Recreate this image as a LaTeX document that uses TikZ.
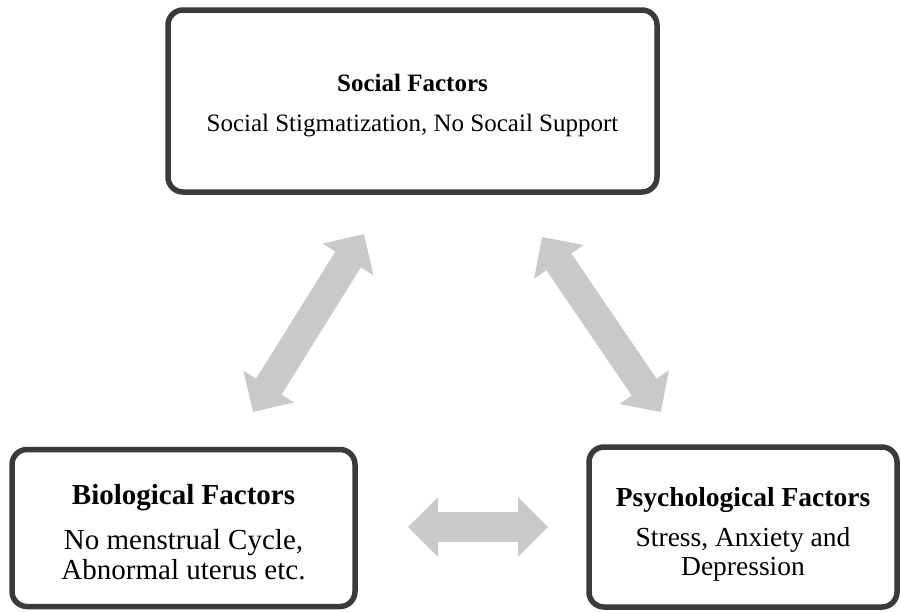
\documentclass[tikz,border=0pt]{standalone}
\usepackage{fontspec}
\setmainfont{Liberation Serif}
\usetikzlibrary{arrows.meta}
\definecolor{boxline}{HTML}{3A3A3A}
\definecolor{arrowgray}{HTML}{C9C9C9}
\tikzset{
  factorbox/.style={draw=boxline, line width=5.5pt, rounded corners=15pt, fill=white, inner sep=0pt},
  factortext/.style={align=center, inner sep=0pt},
  dblarrow/.style={draw=arrowgray, line width=30pt,
    {Triangle[width=58pt,length=30pt]}-{Triangle[width=58pt,length=30pt]}}
}
\begin{document}
\begin{tikzpicture}[x=1pt,y=-1pt]
\useasboundingbox[fill=white] (0,0) rectangle (901,611);
\node[factorbox, minimum width=489pt, minimum height=182pt] (social) at (412.5,101) {};
\node[factortext, font={\fontsize{25}{30}\selectfont}] (socialtext) at ([yshift=-5pt]social.center)
  {\textbf{Social Factors}\\[10pt]Social Stigmatization, No Socail Support};
\node[factorbox, minimum width=343pt, minimum height=157pt] (bio) at (183.5,528) {};
\node[factortext, font={\fontsize{29}{30}\selectfont}] (biotext) at ([yshift=-4pt]bio.center)
  {\textbf{Biological Factors}\\[15pt]No menstrual Cycle,\\Abnormal uterus etc.};
\node[factorbox, minimum width=308pt, minimum height=160pt] (psych) at (743,527) {};
\node[factortext, font={\fontsize{27.5}{29}\selectfont}] (psychtext) at ([yshift=-7pt]psych.center)
  {\textbf{Psychological Factors}\\[11pt]Stress, Anxiety and\\Depression};
\coordinate (l1) at (253,412);
\coordinate (l2) at (364,234);
\coordinate (r1) at (542,237);
\coordinate (r2) at (661,412);
\coordinate (h1) at (408,527);
\coordinate (h2) at (548,527);
\draw[dblarrow] (l1) -- (l2);
\draw[dblarrow] (r1) -- (r2);
\draw[dblarrow] (h1) -- (h2);
\end{tikzpicture}
\end{document}
